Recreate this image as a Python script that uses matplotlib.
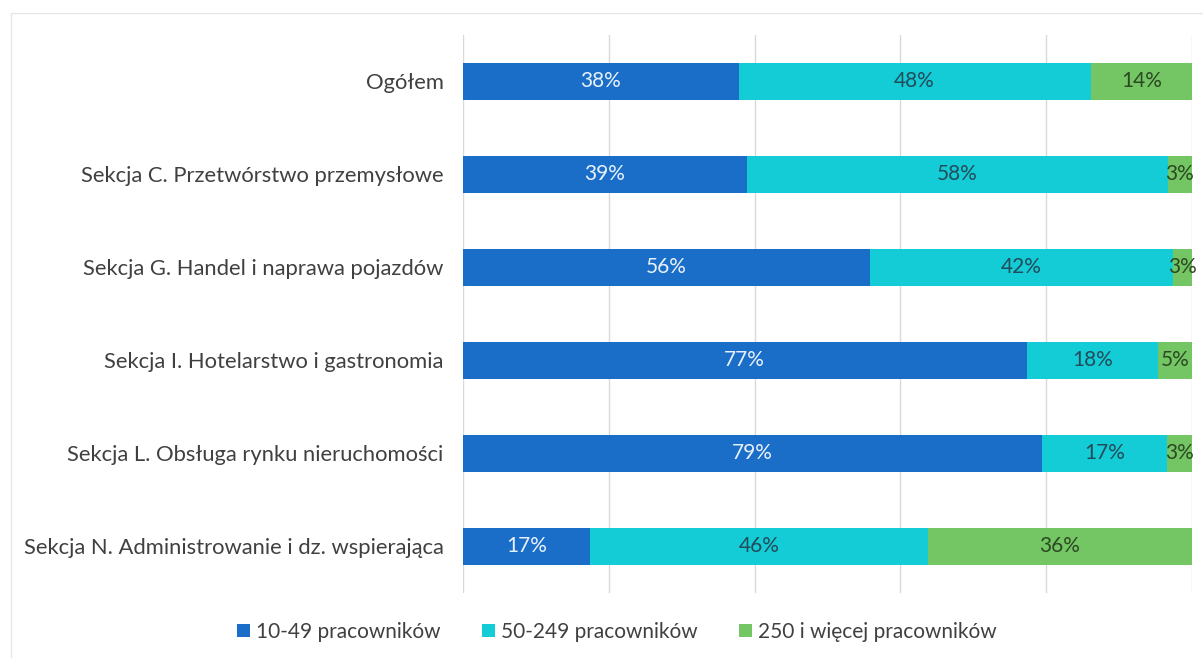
import matplotlib.pyplot as plt
from matplotlib.patches import Rectangle
import numpy as np

plt.rcParams['font.family'] = ['Lato', 'DejaVu Sans']

# udział firm wg wielkości zatrudnienia (%)
sekcje = ['Ogółem',
          'Sekcja C. Przetwórstwo przemysłowe',
          'Sekcja G. Handel i naprawa pojazdów',
          'Sekcja I. Hotelarstwo i gastronomia',
          'Sekcja L. Obsługa rynku nieruchomości',
          'Sekcja N. Administrowanie i dz. wspierająca']
male = [37.8, 38.9, 55.8, 77.3, 79.4, 17.4]
srednie = [48.3, 57.8, 41.6, 18.1, 17.2, 46.4]
duze = [13.9, 3.3, 2.6, 4.6, 3.4, 36.2]

serie = ['10-49 pracowników', '50-249 pracowników', '250 i więcej pracowników']
kolory = ['#1a6ec8', '#13ccd6', '#74c665']
kolory_tekstu = ['#e8f1fb', '#234b5a', '#2c4a22']

fig = plt.figure(figsize=(12.03, 6.58), dpi=100)
ax = fig.add_axes([463 / 1203, 1 - 593 / 658, 729 / 1203, 558 / 658])

y = np.arange(len(sekcje))
lewo = np.zeros(len(sekcje))
for wartosci, kolor, kt, nazwa in zip([male, srednie, duze], kolory, kolory_tekstu, serie):
    wartosci = np.array(wartosci)
    ax.barh(y, wartosci, left=lewo, height=0.4, color=kolor, label=nazwa, zorder=2)
    for yi, l, w in zip(y, lewo, wartosci):
        ax.text(l + w / 2, yi, f'{w:.0f}%', ha='center', va='center',
                fontsize=15, color=kt, zorder=3)
    lewo = lewo + wartosci

ax.set_xlim(0, 100)
ax.set_ylim(len(sekcje) - 0.5, -0.5)
ax.set_xticks(np.arange(0, 101, 20))
ax.xaxis.grid(True, color='#d9d9d9', linewidth=1, zorder=0)
ax.tick_params(axis='x', length=0, labelbottom=False)
ax.tick_params(axis='y', length=0, pad=14, labelsize=15.8, labelcolor='#404040')
ax.set_yticks(y)
ax.set_yticklabels(sekcje)
for s in ax.spines.values():
    s.set_visible(False)

leg = fig.legend(loc='center', bbox_to_anchor=(617 / 1203, 1 - 632 / 658), ncol=3,
                 frameon=False, fontsize=15, handlelength=0.6, handleheight=0.6,
                 handletextpad=0.3, columnspacing=2.0)
for t in leg.get_texts():
    t.set_color('#404040')

# ramka obszaru wykresu
fig.patches.append(Rectangle((10.5 / 1203, -0.1), 1.2, 1 - 12.5 / 658 + 0.1,
                             transform=fig.transFigure, fill=False,
                             edgecolor='#e6e6e6', linewidth=1))

fig.savefig('out.png', dpi=100)
